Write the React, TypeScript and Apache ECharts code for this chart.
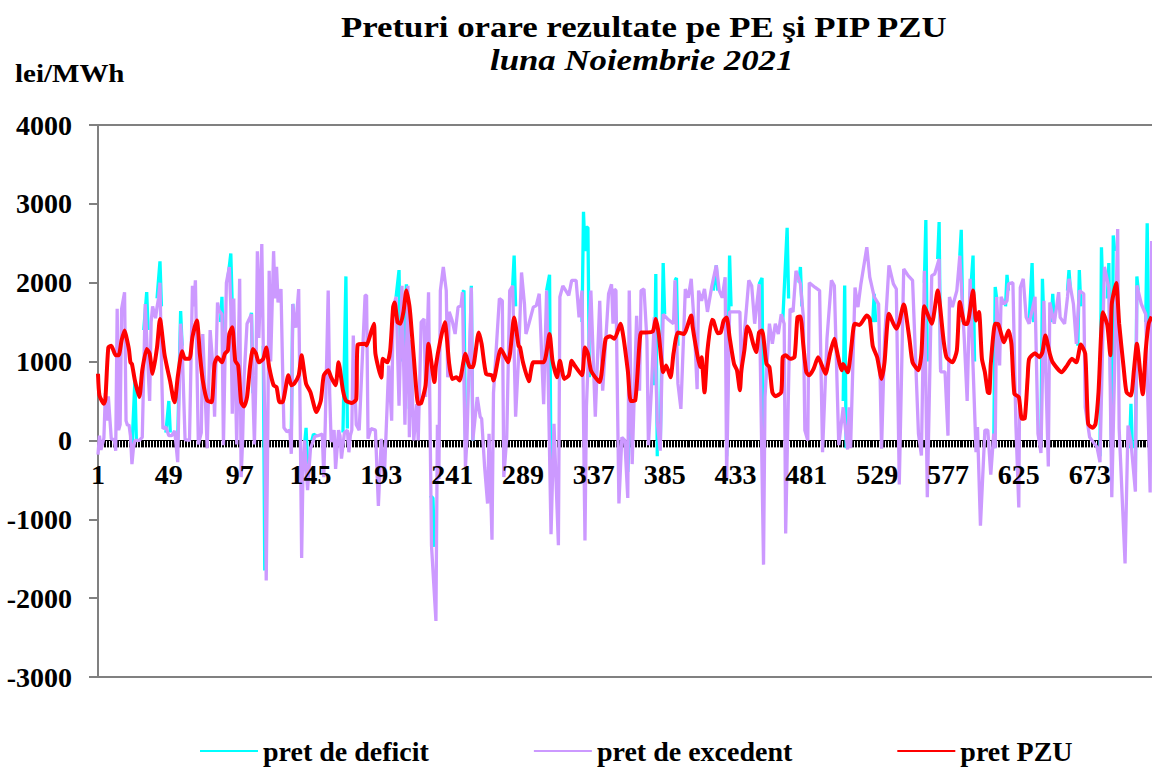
import React, { useEffect, useRef } from "react";
import * as echarts from "echarts";

const titleMain = "Preturi orare rezultate pe PE şi PIP PZU";
const titleSub = "luna Noiembrie 2021";
const unitLabel = "lei/MWh";
const hourCount = 720;
const hours = Array.from({ length: hourCount }, (_, i) => String(i + 1));

const excedent: number[][] = [
[1,-180],[2,60],[3,-120],[5,30],[6,600],[7,250],[8,560],[10,20],[12,10],[13,-130],[14,1670],[15,130],[16,200],[17,1670],[19,1880],[20,250],[21,190],[22,200],[23,60],[24,-300],[25,-100],[26,0],[29,0],[31,40],[33,1730],[34,1300],[36,500],[37,1500],[38,1700],[40,1550],[41,1690],[42,1800],[43,2000],[44,1000],[45,150],[47,170],[49,60],[51,60],[53,120],[55,-275],[57,1480],[58,1200],[60,10],[63,0],[65,1960],[66,1700],[67,2030],[68,1000],[69,-50],[71,100],[72,1350],[74,400],[75,-100],[77,1400],[79,900],[80,300],[82,1750],[83,1650],[85,1600],[86,-60],[88,2000],[90,2200],[91,1700],[92,340],[93,1800],[95,-50],[97,2050],[98,-465],[99,0],[100,800],[102,1480],[105,1600],[106,600],[107,-50],[108,800],[109,2400],[110,1300],[112,2490],[113,1200],[114,300],[115,-1775],[116,0],[117,2150],[118,1000],[120,2400],[121,1800],[122,2200],[123,1750],[125,1920],[126,1000],[127,160],[129,110],[131,130],[132,-170],[133,1730],[134,1500],[135,1430],[137,1920],[138,300],[139,-1490],[140,-300],[141,0],[143,-630],[145,-100],[148,50],[150,60],[153,80],[154,-465],[155,200],[157,1900],[158,600],[159,-20],[161,130],[162,-360],[164,130],[165,60],[166,-230],[168,100],[170,130],[171,-150],[172,60],[173,130],
[174,1330],[176,200],[178,130],[182,1840],[183,1840],[184,20],[186,150],[189,130],[191,-830],[193,20],[195,-490],[198,950],[200,250],[201,1690],[203,1820],[205,440],[207,1960],[209,200],[211,1960],[212,40],[213,1270],[214,600],[215,0],[217,460],[218,0],[220,1500],[222,1540],[223,550],[225,1880],[227,-1330],[230,-2290],[231,200],[232,-490],[233,1900],[235,2200],[237,1900],[238,800],[239,1630],[241,1520],[243,1350],[245,1690],[247,1710],[248,1880],[250,-340],[251,0],[254,1940],[255,0],[258,550],[260,300],[261,275],[263,-340],[265,-800],[266,85],[268,-1260],[269,600],[273,1800],[275,1770],[276,-465],[278,40],[280,1900],[282,1960],[284,300],[286,1050],[288,2130],[290,1730],[291,1350],[293,1480],[296,1690],[298,1710],[300,1860],[303,460],[305,1900],[308,-1190],[310,210],[313,-1330],[314,1820],[316,1960],[320,1840],[322,2030],[325,2030],[327,1560],[329,1900],[331,-1270],[332,430],[335,1900],[338,300],[341,1770],[343,630],[347,1860],[349,1980],[350,1480],[351,1920],[352,1900],
[354,-800],[356,40],[358,0],[360,-730],[361,1900],[363,-300],[366,1580],[368,630],[369,1900],[371,1920],[373,1270],[374,-60],[376,630],[378,1560],[380,230],[382,-130],[384,1600],[387,1540],[391,1480],[392,2030],[394,720],[396,400],[399,1920],[401,1810],[403,2050],[405,1480],[407,650],[408,1900],[410,1770],[412,1920],[414,1630],[417,1960],[420,2220],[422,1900],[424,1810],[426,2070],[427,-490],[429,1630],[432,1630],[436,1630],[437,850],[439,1350],[442,2030],[444,1960],[446,1480],[449,1980],[452,-1575],[453,550],[456,1480],[458,1225],[460,1480],[462,1350],[464,1600],[466,1480],[467,-1180],[470,1670],[472,1630],[474,2150],[477,1985],[479,1560],[480,130],[482,0],[483,2000],[487,1940],[490,1900],[492,-150],[495,1290],[498,2030],[500,1960],[503,-60],[506,420],[509,-115],[510,420],[511,-100],[514,1940],[516,1690],[518,1985],[522,2450],[524,2070],
[527,1820],[530,1730],[532,-105],[534,1270],[537,2220],[540,1985],[542,1920],[544,-560],[547,2175],[550,2090],[553,2030],[557,85],[559,-190],[561,2150],[563,-720],[566,2090],[568,2110],[571,2300],[572,870],[575,870],[577,60],[578,1820],[580,1690],[583,1900],[585,2340],[588,1300],[590,500],[592,2050],[593,1480],[596,-150],[597,170],[599,-1080],[602,130],[604,130],[606,-435],[608,85],[609,-100],[610,1820],[612,950],[613,1820],[615,1730],[617,1770],[618,1985],[621,2000],[623,210],[625,-850],[626,1940],[628,2050],[630,1560],[632,1480],[636,1820],[638,85],[640,-160],[642,1770],[645,-330],[646,1750],[649,1480],[652,1880],[653,1560],[656,1480],[658,1820],[659,2050],[662,1730],[664,1225],[666,1900],[669,1860],[670,420],[673,40],[678,-85],[680,-275],[683,2200],[686,1940],[688,-720],[692,2680],[693,150],[697,-1560],[699,190],[701,-20],[704,-650],[705,1965],[708,1730],[711,1600],[714,-660],[715,2530]
];

const deficitSegments: number[][][] = [
[[24,-100],[26,760],[27,0]],[[32,1400],[34,1880],[35,1400]],[[41,1800],[43,2270],[44,1700]],[[47,100],[49,500],[50,100]],[[55,0],[57,1640],[58,1200]],[[84,1500],[85,1820],[86,1000]],[[89,2050],[91,2370],[92,1700]],[[104,1500],[105,1620],[106,600]],[[113,1200],[114,-1650],[115,-1000]],[[132,100],[133,1730],[134,1500]],[[141,-50],[142,160],[143,-300]],[[146,0],[147,80],[149,60]],[[167,100],[169,2080],[170,150]],
[[203,1820],[205,2160],[206,1000]],[[208,1000],[210,1980],[211,1000]],[[212,400],[213,1270],[214,300]],[[226,-700],[228,-730],[229,-1350]],[[248,1880],[249,1900],[250,0]],[[253,1000],[254,1960],[255,0]],[[282,1960],[283,2345],[284,1700]],[[305,1900],[307,2100],[308,-500]],[[329,1500],[330,2900],[331,2400],[332,2700],[333,2700],[334,800]],
[[360,-400],[362,500],[363,0]],[[378,700],[379,2110],[380,-200]],[[382,-100],[384,2250],[385,1600]],[[392,2030],[393,2060],[394,1200]],[[418,1900],[420,2220],[421,1900]],[[427,-200],[429,2345],[430,1700]],[[449,1980],[451,2060],[452,-400]],[[465,1500],[468,2695],[469,1800]],[[476,2000],[477,2200],[478,1700]],[[506,500],[507,1965],[508,-100]],[[526,1500],[527,1860],[528,1500]],
[[561,2000],[562,2795],[563,1000]],[[570,2300],[571,2770],[572,900]],[[585,2340],[586,2670],[587,1500]],[[592,1800],[594,2345],[595,1000]],[[608,-100],[609,1945],[610,1800]],[[616,1700],[617,2100],[618,1900]],[[632,1500],[634,2250],[635,1500]],[[640,0],[641,2050],[642,1500]],[[647,1500],[648,1860],[649,1500]],[[658,1900],[659,2160],[660,1900]],[[665,1200],[666,2160],[667,1700]],[[680,-200],[681,2450],[682,1800]],[[685,1800],[686,2250],[688,-300],[689,2600],[690,2400]],[[700,-100],[701,465],[702,-100]],[[704,-400],[705,2080],[706,1900]],[[711,1500],[712,2755],[713,1400]]
];

const pzu: number[][] = [
[1,845],[2,570],[5,465],[6,520],[8,1180],[10,1200],[13,1080],[15,1080],[17,1270],[19,1395],[20,1330],[22,1150],[23,990],[24,970],[26,760],[29,550],[31,890],[34,1160],[36,1100],[38,845],[41,1180],[43,1540],[46,1100],[48,910],[50,740],[52,530],[53,485],[55,800],[58,1130],[60,1035],[63,1035],[65,1310],[68,1520],[70,1100],[72,760],[75,505],[78,485],[80,970],[82,1055],[85,990],[87,1100],[89,1140],[90,1350],[92,1435],[94,1010],[96,950],[98,485],[100,430],[102,550],[104,930],[106,1160],[108,1105],[110,990],[113,1035],[115,1180],[117,930],[120,700],[122,675],[124,485],[126,485],[130,825],[132,700],[134,720],[137,825],[139,1080],[140,970],[142,720],[145,610],[149,360],[152,505],[154,825],[157,890],[159,800],[162,700],[164,990],[167,635],[169,505],[173,475],
[176,520],[177,1215],[182,1225],[183,1205],[186,1370],[188,1480],[189,1100],[193,795],[194,1035],[197,990],[199,1140],[201,1690],[202,1750],[204,1500],[206,1480],[208,1630],[210,1900],[212,1710],[213,1520],[215,1055],[218,465],[220,475],[223,700],[225,1225],[229,740],[230,950],[233,1270],[236,1500],[239,970],[241,780],[244,800],[246,760],[250,1100],[253,930],[255,930],[259,1370],[261,1220],[264,845],[268,825],[269,760],[274,1160],[279,990],[283,1560],[286,1200],[287,1180],[289,990],[293,750],[296,990],[303,990],[307,1350],[309,1010],[312,800],[314,1010],[317,780],[320,825],[322,1010],[324,950],[329,825],[331,1180],[333,1100],[335,890],[338,800],[341,740],[345,1290],[348,1320],[351,1290],
[355,1480],[360,890],[362,500],[365,505],[369,1370],[372,1370],[377,1385],[379,1540],[381,1350],[384,865],[386,950],[389,800],[391,1100],[394,1370],[398,1350],[403,1585],[404,1435],[407,1100],[409,930],[410,1055],[412,610],[414,1140],[417,1530],[418,1520],[421,1360],[423,1370],[425,1520],[427,1560],[429,1310],[432,970],[434,890],[436,635],[437,890],[439,1140],[441,1445],[443,1370],[445,1225],[447,1120],[449,1370],[451,1395],[454,970],[456,930],[458,610],[460,560],[464,610],[465,1055],[467,1080],[470,1035],[473,1055],[475,1560],[477,1570],[479,1200],[481,865],[483,825],[486,910],[489,1055],[494,845],[497,1100],[500,1290],[501,1200],[505,890],[506,970],[509,865],[513,1435],[514,1480],[517,1465],[522,1585],[524,1540],
[526,1200],[529,1055],[532,780],[534,990],[537,1605],[542,1415],[544,1500],[547,1725],[548,1670],[551,1270],[553,990],[557,890],[559,1100],[561,1700],[566,1480],[570,1900],[574,1270],[576,1055],[580,990],[583,1140],[585,1755],[588,1485],[590,1475],[594,1900],[596,1520],[598,1630],[600,1035],[602,865],[604,610],[605,600],[606,970],[609,1480],[611,1475],[615,1245],[618,1395],[620,1225],[622,590],[625,550],[627,275],[629,280],[631,800],[632,1035],[636,1105],[639,1055],[641,1120],[643,1330],[646,1100],[648,990],[654,865],[657,930],[661,1035],[664,990],[667,1215],[670,1100],[672,210],[675,160],[677,210],[679,610],[682,1625],[685,1460],[687,1080],[688,1730],[691,1995],[693,1480],[696,930],[698,610],[701,570],[703,890],[705,1225],[709,585],[711,1140],[713,1480],[715,1570]
];

const toIndex = (rows: number[][]) => rows.map(([h, v]) => [h - 1, v]);
const deficit = deficitSegments.flatMap((seg) => [...toIndex(seg), [seg[seg.length - 1][0], null]]);

const FONT = "Liberation Serif";
const AXIS_GREY = "#808080";
const STRETCH = 1.16;
const ZERO_OFFSET = -236.6;

export default function App() {
  const ref = useRef<HTMLDivElement>(null);
  useEffect(() => {
    document.body.style.margin = "0";
    const chart = echarts.init(ref.current!, undefined, { renderer: "svg" });
    const boldText = (text: string, size: number, italic = false) => ({
      text,
      fontFamily: FONT,
      fontWeight: "bold",
      fontStyle: italic ? "italic" : "normal",
      fontSize: size,
      fill: "#000",
      align: "left",
      verticalAlign: "middle",
    });
    chart.setOption({
      animation: false,
      backgroundColor: "#fff",
      graphic: [
        { type: "text", x: 341, y: 27, scaleX: STRETCH, style: boldText(titleMain, 30) },
        { type: "text", x: 490, y: 60, scaleX: STRETCH, style: boldText(titleSub, 30, true) },
        { type: "text", x: 15, y: 74, scaleX: STRETCH, style: boldText(unitLabel, 25) },
      ],
      legend: {
        left: 195,
        top: 732,
        icon: "rect",
        itemWidth: 58,
        itemHeight: 2,
        itemGap: 105,
        textStyle: { fontFamily: FONT, fontWeight: "bold", fontSize: 28, lineHeight: 24, color: "#000" },
        data: ["pret de deficit", "pret de excedent", "pret PZU"],
      },
      grid: { left: 98, right: 0, top: 125, bottom: 90, show: true, borderColor: AXIS_GREY, borderWidth: 2 },
      xAxis: [
        {
          type: "category",
          position: "bottom",
          data: hours,
          boundaryGap: false,
          offset: ZERO_OFFSET,
          axisLine: { onZero: false, lineStyle: { color: "#000", width: 1 } },
          axisTick: { interval: 0, length: 7, lineStyle: { color: "#000", width: 1 } },
          axisLabel: { show: false },
          splitLine: { show: false },
        },
        {
          type: "category",
          position: "bottom",
          data: hours,
          boundaryGap: false,
          offset: ZERO_OFFSET,
          z: 10,
          axisLine: { show: false, onZero: false },
          axisTick: { show: false },
          axisLabel: { interval: 47, margin: 20, showMinLabel: true, color: "#000", fontFamily: FONT, fontWeight: "bold", fontSize: 28 },
          splitLine: { show: false },
        },
      ],
      yAxis: {
        type: "value",
        min: -3000,
        max: 4000,
        interval: 1000,
        axisLine: { show: true, lineStyle: { color: AXIS_GREY, width: 2 } },
        axisTick: { show: true, length: 9, lineStyle: { color: AXIS_GREY, width: 2 } },
        axisLabel: { margin: 26, formatter: (v: number) => String(v), color: "#000", fontFamily: FONT, fontWeight: "bold", fontSize: 28 },
        splitLine: { show: false },
      },
      series: [
        { name: "pret de deficit", type: "line", data: deficit, showSymbol: false, symbol: "none", lineStyle: { color: "#00FFFF", width: 3.3 }, itemStyle: { color: "#00FFFF" }, z: 2 },
        { name: "pret de excedent", type: "line", data: toIndex(excedent), showSymbol: false, symbol: "none", lineStyle: { color: "#CC99FF", width: 3.3 }, itemStyle: { color: "#CC99FF" }, z: 3 },
        { name: "pret PZU", type: "line", data: toIndex(pzu), showSymbol: false, symbol: "none", smooth: 0.2, lineStyle: { color: "#FF0000", width: 4 }, itemStyle: { color: "#FF0000" }, z: 4 },
      ],
    });
    return () => chart.dispose();
  }, []);
  return (
    <div style={{ width: 1152, height: 767, overflow: "hidden" }}>
      <div ref={ref} style={{ width: 1159, height: 767 }} />
    </div>
  );
}
